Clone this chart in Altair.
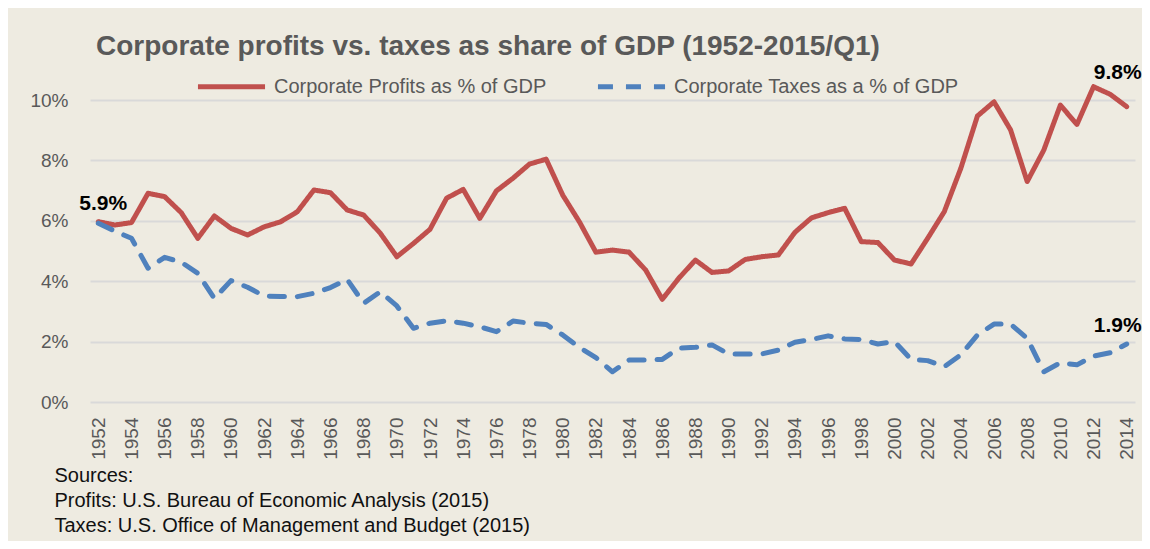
import altair as alt
import pandas as pd

years = list(range(1952, 2015))
profits = [5.97, 5.86, 5.94, 6.91, 6.80, 6.27, 5.42, 6.16, 5.75, 5.53,
           5.80, 5.97, 6.30, 7.02, 6.93, 6.36, 6.19, 5.59, 4.81, 5.25,
           5.72, 6.75, 7.04, 6.08, 6.99, 7.41, 7.88, 8.04, 6.85, 5.97,
           4.96, 5.03, 4.96, 4.37, 3.40, 4.10, 4.70, 4.29, 4.34, 4.72,
           4.81, 4.87, 5.62, 6.10, 6.27, 6.41, 5.31, 5.28, 4.70, 4.57,
           5.42, 6.30, 7.74, 9.47, 9.94, 9.01, 7.30, 8.34, 9.83, 9.19,
           10.44, 10.19, 9.78]
taxes = [5.92, 5.66, 5.42, 4.43, 4.79, 4.63, 4.26, 3.43, 4.02, 3.80,
         3.51, 3.49, 3.49, 3.60, 3.79, 4.06, 3.27, 3.65, 3.18, 2.44,
         2.61, 2.69, 2.61, 2.49, 2.33, 2.68, 2.61, 2.57, 2.22, 1.81,
         1.47, 1.00, 1.39, 1.39, 1.41, 1.78, 1.81, 1.89, 1.59, 1.59,
         1.59, 1.72, 1.98, 2.07, 2.19, 2.09, 2.07, 1.92, 2.00, 1.41,
         1.37, 1.17, 1.56, 2.22, 2.58, 2.58, 2.11, 1.00, 1.30, 1.23,
         1.52, 1.63, 1.92]
series_names = ["Corporate Profits as % of GDP", "Corporate Taxes as a % of GDP"]
series_colors = ["#C0504D", "#4F81BD"]
tick_years = list(range(1952, 2015, 2))
y_ticks = [0, 2, 4, 6, 8, 10]
title_text = "Corporate profits vs. taxes as share of GDP (1952-2015/Q1)"
sources_lines = ["Sources:",
                 "Profits: U.S. Bureau of Economic Analysis (2015)",
                 "Taxes: U.S. Office of Management and Budget (2015)"]
annot_years = [1952, 2014, 2014]
annot_values = [5.97, 9.78, 1.92]
annot_labels = ["5.9%", "9.8%", "1.9%"]
annot_dx = [5, -9, -9]
annot_dy = [-18, -34, -18]

FONT = "Liberation Sans"
GRAY = "#595959"

df = pd.DataFrame({
    "year": years * 2,
    "value": profits + taxes,
    "series": [series_names[0]] * len(years) + [series_names[1]] * len(years),
})

x = alt.X("year:Q", scale=alt.Scale(domain=[1951.5, 2014.5], nice=False, zero=False),
          axis=alt.Axis(values=tick_years, labelAngle=-90, format="d", grid=False,
                        domain=False, ticks=False, labelPadding=15, labelOverlap=False,
                        labelSeparation=0, labelBound=False,
                        labelFontSize=19, labelColor=GRAY, labelFont=FONT,
                        title=sources_lines, titleX=-36, titleY=63, titleAlign="left",
                        titleBaseline="top", titleAngle=0, titleFontSize=20,
                        titleFontWeight="normal", titleColor="#111111", titleFont=FONT,
                        titleLineHeight=25))
y = alt.Y("value:Q", scale=alt.Scale(domain=[0, 10], nice=False),
          axis=alt.Axis(values=y_ticks, labelExpr="datum.value + '%'", title=None,
                        domain=False, ticks=False, labelPadding=22, grid=True,
                        gridColor="#D9D9D9", gridWidth=2, labelFontSize=19,
                        labelColor=GRAY, labelFont=FONT))

lines = alt.Chart(df).mark_line(strokeWidth=5, strokeCap="round", strokeJoin="round",
                                clip=False).encode(
    x=x, y=y,
    color=alt.Color("series:N", scale=alt.Scale(domain=series_names, range=series_colors),
                    legend=alt.Legend(title=None, orient="none", legendX=105, legendY=-50,
                                      direction="horizontal", symbolType="stroke",
                                      symbolSize=4500, symbolStrokeWidth=5,
                                      labelFontSize=20, labelColor=GRAY, labelFont=FONT,
                                      labelLimit=400, columnPadding=40, labelOffset=6)),
    strokeDash=alt.StrokeDash("series:N",
                              scale=alt.Scale(domain=series_names, range=[[1, 0], [15, 13]]),
                              legend=None),
)

layers = [lines]
for i in range(len(annot_labels)):
    a = pd.DataFrame({"year": [annot_years[i]], "value": [annot_values[i]],
                      "label": [annot_labels[i]]})
    layers.append(alt.Chart(a).mark_text(fontSize=21, fontWeight="bold", font=FONT,
                                         color="#000000", align="center", baseline="middle",
                                         dx=annot_dx[i], dy=annot_dy[i]).encode(
        x=x, y=y, text="label:N"))

title = alt.Chart(pd.DataFrame({"t": [title_text]})).mark_text(
    fontSize=28, fontWeight="bold", font=FONT, color=GRAY, align="left",
    baseline="alphabetic").encode(x=alt.value(6), y=alt.value(-45), text="t:N")
layers.append(title)

chart = alt.layer(*layers).properties(
    width=1045, height=302,
    autosize=alt.AutoSizeParams(type="none"),
    padding={"left": 82, "top": 92, "right": 7, "bottom": 139},
    background="#EEEBE1",
).configure_view(stroke=None).configure_axisX(labelOverlap=False)

chart.save("out.html", embed_options={"renderer": "svg", "actions": False})
